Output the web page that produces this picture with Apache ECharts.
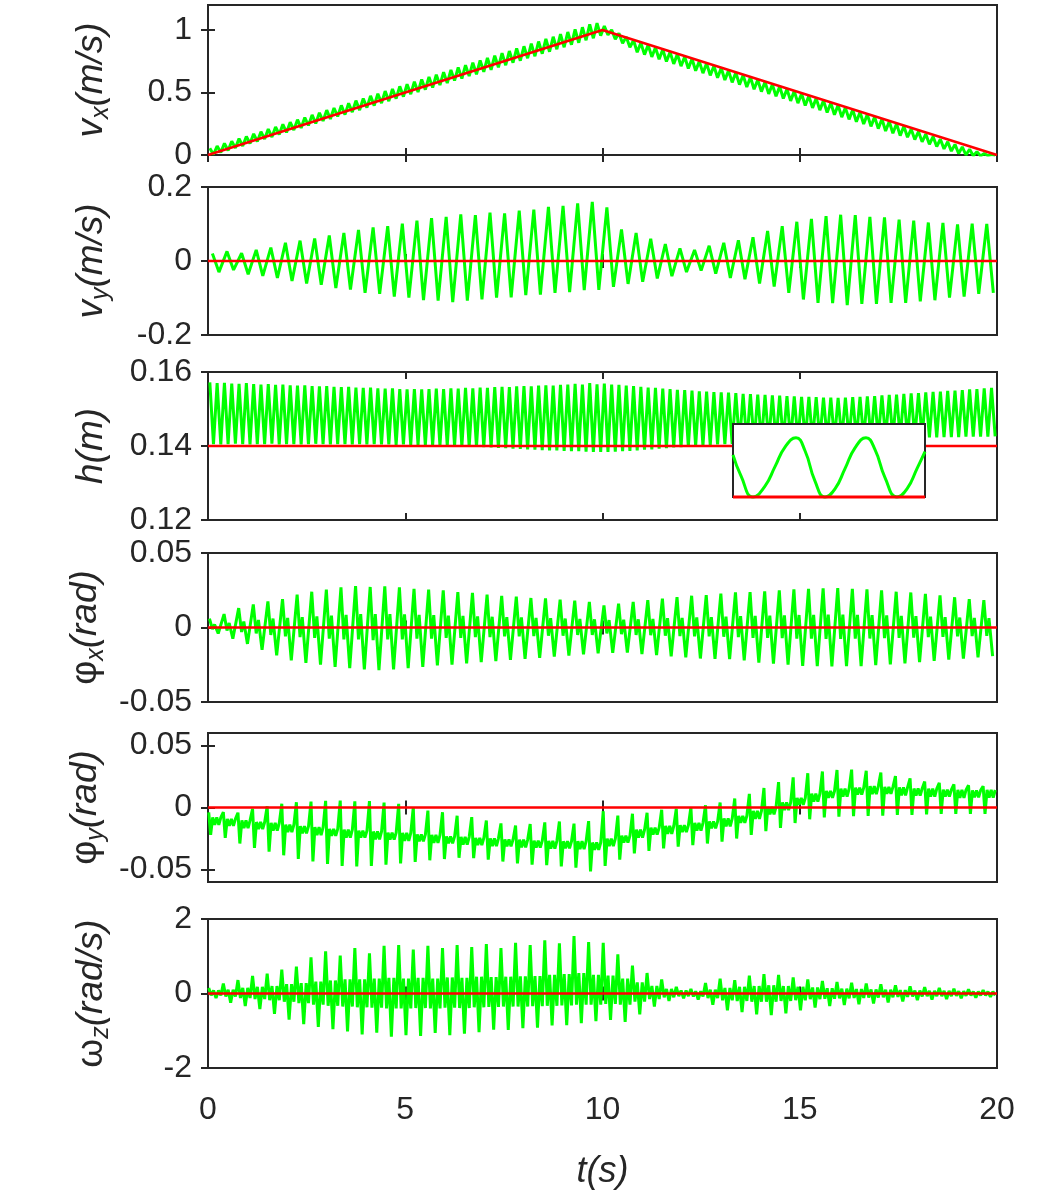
<!DOCTYPE html>
<html><head><meta charset="utf-8">
<script src="https://cdn.jsdelivr.net/npm/echarts@6/dist/echarts.min.js"></script>
<style>html,body{margin:0;padding:0;background:#fff}#c{width:1050px;height:1200px}</style>
</head><body><div id="c"></div>
<script>
// ---------- data ----------
const T_END = 20;
const xTicks = [0, 5, 10, 15, 20];
const vxTicks = [0, 0.5, 1];
const vyTicks = [-0.2, 0, 0.2];
const hTicks = [0.12, 0.14, 0.16];
const phxTicks = [-0.05, 0, 0.05];
const phyTicks = [-0.05, 0, 0.05];
const wzTicks = [-2, 0, 2];

// red reference commands
const refTimes = [0, 10, 20];
const vxRefVals = [0, 1, 0];
const zeroRefVals = [0, 0, 0];
const hRefVals = [0.14, 0.14, 0.14];

// fast oscillation (one entry per step cycle): vx and h
const vxHi = [0.054,0.072,0.093,0.110,0.131,0.148,0.169,0.186,0.207,0.224,0.245,0.262,0.283,0.300,0.321,0.338,0.359,0.376,0.397,0.414,0.435,0.452,0.473,0.490,0.511,0.528,0.549,0.566,0.587,0.604,0.625,0.642,0.663,0.680,0.701,0.718,0.739,0.756,0.777,0.794,0.815,0.832,0.853,0.870,0.891,0.908,0.929,0.946,0.967,0.984,1.005,1.022,1.045,1.055,
1.031,1.002,0.974,0.945,0.918,0.897,0.881,0.860,0.844,0.823,0.807,0.786,0.770,0.749,0.733,0.712,0.696,0.675,0.659,0.638,0.622,0.601,0.585,0.564,0.548,0.527,0.511,0.490,0.473,0.453,0.436,0.416,0.399,0.379,0.362,0.342,0.325,0.305,0.288,0.268,0.250,0.230,0.208,0.188,0.167,0.147,0.126,0.106,0.085,0.065,0.046,0.027,0.012,0.003];
const vxLo = [0.004,0.020,0.036,0.056,0.072,0.092,0.108,0.128,0.144,0.164,0.180,0.200,0.216,0.236,0.252,0.272,0.288,0.308,0.323,0.343,0.359,0.379,0.395,0.415,0.431,0.451,0.467,0.487,0.503,0.523,0.539,0.559,0.575,0.595,0.611,0.631,0.646,0.666,0.682,0.702,0.718,0.738,0.754,0.774,0.790,0.810,0.826,0.846,0.862,0.882,0.898,0.918,0.934,0.955,
0.961,0.927,0.894,0.862,0.822,0.803,0.785,0.766,0.748,0.729,0.711,0.692,0.674,0.655,0.637,0.618,0.600,0.581,0.563,0.544,0.526,0.507,0.489,0.470,0.452,0.433,0.415,0.396,0.377,0.359,0.340,0.322,0.303,0.285,0.266,0.248,0.229,0.211,0.192,0.174,0.155,0.142,0.123,0.105,0.086,0.068,0.049,0.031,0.012,0.000,-0.006,-0.008,-0.006,-0.003];
const hHi = [0.1572,0.157,0.1571,0.1569,0.1568,0.157,0.1567,0.1566,0.1567,0.1565,0.1566,0.1564,0.1563,0.1564,0.1562,0.1561,0.1562,0.156,0.1559,0.156,
0.1558,0.1557,0.1558,0.1556,0.1555,0.1556,0.1554,0.1553,0.1554,0.1553,0.1554,0.1555,0.1554,0.1556,0.1555,0.1557,0.1556,0.1558,0.1557,0.1559,
0.156,0.1559,0.1561,0.1562,0.1561,0.1563,0.1564,0.1563,0.1565,0.1566,0.1568,0.1566,0.157,0.1567,0.1569,0.1566,0.1565,0.1563,0.1562,0.156,
0.1558,0.1557,0.1555,0.1554,0.1552,0.1551,0.155,0.1548,0.1547,0.1546,0.1545,0.1544,0.1543,0.1541,0.154,0.1539,0.1538,0.1537,0.1536,0.1535,
0.1534,0.1533,0.1533,0.1532,0.1531,0.1531,0.153,0.1531,0.1532,0.1533,0.1534,0.1535,0.1537,0.1538,0.1539,0.1541,0.1542,0.1543,0.1545,0.1546,
0.1547,0.1549,0.155,0.1551,0.1553,0.1554,0.1556,0.1557];
const hLo = [0.1405,0.1404,0.1405,0.1406,0.1405,0.1404,0.1405,0.1405,0.1406,0.1404,0.1405,0.1405,0.1404,0.1405,0.1406,0.1405,0.1404,0.1405,0.1405,0.1404,
0.1405,0.1404,0.1405,0.1404,0.1404,0.1403,0.1404,0.1403,0.1403,0.1402,0.1402,0.1401,0.1401,0.14,0.1399,0.1399,0.1398,0.1397,0.1396,0.1395,
0.1394,0.1393,0.1392,0.1391,0.139,0.1389,0.1388,0.1388,0.1387,0.1386,0.1386,0.1385,0.1384,0.1384,0.1384,0.1385,0.1386,0.1387,0.1388,0.139,
0.1391,0.1393,0.1394,0.1396,0.1397,0.1399,0.14,0.1401,0.1402,0.1404,0.1405,0.1406,0.1407,0.1408,0.1409,0.141,0.1411,0.1412,0.1413,0.1414,
0.1415,0.1416,0.1416,0.1417,0.1418,0.1418,0.1419,0.1419,0.142,0.142,0.142,0.1421,0.1421,0.1421,0.1422,0.1422,0.1422,0.1423,0.1423,0.1423,
0.1424,0.1424,0.1424,0.1425,0.1425,0.1425,0.1425,0.1426];

// slow oscillation (one entry per gait cycle)
const vyHi = [0.020,0.026,0.021,0.030,0.036,0.049,0.055,0.061,0.069,0.076,0.084,0.091,0.094,0.101,0.109,0.116,0.119,0.126,0.124,0.131,0.129,0.136,0.139,0.146,0.149,0.156,0.160,0.145,0.085,0.076,0.060,0.046,0.034,0.030,0.041,0.049,0.056,0.064,0.081,0.094,0.106,0.114,0.121,0.125,0.124,0.119,0.118,0.112,0.109,0.104,0.103,0.099,0.101,0.100];
const vyLo = [-0.030,-0.024,-0.036,-0.040,-0.046,-0.054,-0.061,-0.064,-0.073,-0.077,-0.086,-0.089,-0.096,-0.099,-0.106,-0.107,-0.111,-0.107,-0.104,-0.099,-0.098,-0.092,-0.091,-0.086,-0.084,-0.079,-0.078,-0.070,-0.062,-0.056,-0.047,-0.041,-0.030,-0.026,-0.034,-0.046,-0.049,-0.061,-0.069,-0.086,-0.104,-0.113,-0.114,-0.119,-0.116,-0.116,-0.113,-0.113,-0.109,-0.106,-0.099,-0.096,-0.089,-0.086];
const phxHi = [0.006,0.009,0.013,0.0155,0.0175,0.019,0.022,0.024,0.0255,0.027,0.0278,0.0272,0.0276,0.027,0.026,0.0255,0.025,0.0238,0.0232,0.022,0.0213,0.0207,0.0198,0.0195,0.0187,0.018,0.0172,0.0148,0.016,0.0172,0.0183,0.0193,0.0204,0.0213,0.0218,0.0228,0.0236,0.0238,0.0243,0.025,0.0256,0.0259,0.0263,0.0265,0.026,0.0256,0.025,0.024,0.0235,0.0225,0.0215,0.0203,0.0191,0.0183];
const phxDip = [-0.001,-0.002,-0.003,-0.004,-0.005,-0.006,-0.0065,-0.007,-0.0075,-0.008,-0.008,-0.0085,-0.008,-0.008,-0.0075,-0.0075,-0.007,-0.007,-0.0065,-0.0065,-0.006,-0.006,-0.0058,-0.0055,-0.0055,-0.005,-0.005,-0.004,-0.0045,-0.005,-0.0052,-0.0055,-0.0058,-0.006,-0.006,-0.0062,-0.0065,-0.007,-0.007,-0.0072,-0.0075,-0.0075,-0.0076,-0.0076,-0.0075,-0.0074,-0.0072,-0.007,-0.0068,-0.0065,-0.0063,-0.006,-0.0058,-0.0056];
const phxBump = [0.002,0.003,0.004,0.005,0.006,0.0065,0.007,0.0075,0.008,0.0085,0.009,0.009,0.009,0.0088,0.0085,0.0083,0.008,0.0078,0.0075,0.0072,0.007,0.0068,0.0065,0.0063,0.006,0.0058,0.0055,0.005,0.0052,0.0055,0.0058,0.0062,0.0065,0.0068,0.007,0.0073,0.0076,0.0078,0.008,0.0082,0.0084,0.0085,0.0086,0.0086,0.0085,0.0083,0.0081,0.0078,0.0076,0.0073,0.007,0.0067,0.0064,0.0062];
const phxLo = [-0.004,-0.0075,-0.011,-0.015,-0.0187,-0.022,-0.0237,-0.025,-0.0265,-0.0273,-0.0282,-0.0286,-0.0281,-0.0273,-0.0264,-0.0255,-0.0249,-0.024,-0.0233,-0.0226,-0.0218,-0.021,-0.0203,-0.0196,-0.0188,-0.018,-0.0173,-0.017,-0.0168,-0.0178,-0.0185,-0.0193,-0.02,-0.0208,-0.021,-0.0213,-0.022,-0.0235,-0.0243,-0.025,-0.0258,-0.026,-0.0261,-0.026,-0.0259,-0.0253,-0.0247,-0.024,-0.0232,-0.0224,-0.0216,-0.0208,-0.02,-0.0192];
const phyHi = [-0.004,-0.0038,-0.0042,-0.001,0.001,0.003,0.0042,0.0048,0.0053,0.0056,0.005,0.0051,0.0039,0.003,0.0002,-0.0025,-0.0038,-0.0066,-0.0078,-0.0105,-0.0128,-0.0145,-0.0133,-0.012,-0.0113,-0.013,-0.011,-0.003,-0.0065,-0.005,-0.0042,-0.0018,-0.001,0.0003,0.0018,0.004,0.0072,0.011,0.0157,0.0205,0.0243,0.0276,0.029,0.0302,0.0305,0.0296,0.0281,0.0254,0.0234,0.0209,0.0198,0.0187,0.0179,0.0172];
const phyLo = [-0.022,-0.0245,-0.029,-0.0325,-0.0355,-0.0385,-0.0415,-0.0435,-0.0455,-0.047,-0.0475,-0.047,-0.046,-0.045,-0.0438,-0.0425,-0.0415,-0.0405,-0.0408,-0.042,-0.0435,-0.045,-0.046,-0.0465,-0.0475,-0.0485,-0.0515,-0.047,-0.042,-0.037,-0.035,-0.033,-0.0315,-0.0303,-0.029,-0.0275,-0.025,-0.022,-0.019,-0.0165,-0.0125,-0.0095,-0.008,-0.0073,-0.007,-0.0068,-0.0065,-0.006,-0.006,-0.0055,-0.0052,-0.0052,-0.0052,-0.0052];
const phyBandHi = [-0.008,-0.0092,-0.0104,-0.0117,-0.0124,-0.0138,-0.015,-0.0158,-0.0172,-0.0178,-0.0186,-0.0193,-0.0202,-0.0204,-0.0217,-0.022,-0.0232,-0.0236,-0.0245,-0.0248,-0.0257,-0.0258,-0.0267,-0.0268,-0.0272,-0.0271,-0.0282,-0.025,-0.0227,-0.0178,-0.0162,-0.0148,-0.0142,-0.0123,-0.0112,-0.0088,-0.0067,-0.0028,0.0005,0.0042,0.0078,0.0112,0.0133,0.0152,0.016,0.0172,0.0166,0.0162,0.0153,0.0152,0.0143,0.0142,0.0138,0.0141];
const phyBandLo = [-0.014,-0.0148,-0.0166,-0.0173,-0.0186,-0.0198,-0.0208,-0.0222,-0.0228,-0.0242,-0.0243,-0.0257,-0.0258,-0.0268,-0.0273,-0.0284,-0.0288,-0.0298,-0.0302,-0.0311,-0.0313,-0.0322,-0.0323,-0.0332,-0.0328,-0.0335,-0.034,-0.031,-0.0283,-0.0242,-0.0218,-0.0212,-0.0198,-0.0187,-0.0168,-0.0152,-0.0123,-0.0092,-0.0055,-0.0022,0.0022,0.0048,0.0077,0.0088,0.0104,0.0108,0.011,0.0098,0.0097,0.0088,0.0087,0.0078,0.0082,0.0079];
const wzHi = [0.15,0.27,0.36,0.47,0.53,0.64,0.72,0.97,1.13,1.02,1.22,1.08,1.28,1.3,1.18,1.28,1.22,1.3,1.25,1.33,1.22,1.36,1.3,1.43,1.35,1.54,1.38,1.36,1.05,0.75,0.55,0.38,0.18,0.12,0.28,0.4,0.36,0.48,0.52,0.5,0.43,0.38,0.34,0.31,0.29,0.27,0.25,0.22,0.19,0.17,0.15,0.13,0.11,0.09];
const wzMidA = [-0.05,-0.08,-0.12,-0.15,-0.18,-0.22,-0.26,-0.3,-0.33,-0.35,-0.37,-0.38,-0.4,-0.4,-0.39,-0.4,-0.38,-0.39,-0.37,-0.36,-0.35,-0.35,-0.34,-0.33,-0.32,-0.3,-0.3,-0.28,-0.3,-0.22,-0.15,-0.1,-0.07,-0.08,-0.12,-0.18,-0.2,-0.22,-0.22,-0.2,-0.18,-0.15,-0.14,-0.13,-0.12,-0.11,-0.1,-0.09,-0.08,-0.07,-0.07,-0.06,-0.05,-0.05];
const wzMidB = [0.08,0.1,0.15,0.18,0.2,0.25,0.28,0.32,0.35,0.38,0.38,0.4,0.42,0.4,0.42,0.4,0.43,0.42,0.45,0.44,0.45,0.46,0.47,0.5,0.52,0.55,0.5,0.48,0.4,0.3,0.2,0.12,0.08,0.06,0.1,0.15,0.18,0.2,0.22,0.2,0.18,0.16,0.14,0.13,0.12,0.11,0.1,0.09,0.08,0.07,0.07,0.06,0.05,0.05];
const wzLo = [-0.12,-0.25,-0.34,-0.42,-0.55,-0.7,-0.82,-0.9,-0.96,-1.02,-1.1,-1.05,-1.16,-1.12,-1.14,-1.06,-1.12,-1.08,-1.04,-0.97,-0.98,-0.93,-0.92,-0.86,-0.85,-0.8,-0.74,-0.71,-0.76,-0.56,-0.35,-0.2,-0.13,-0.16,-0.3,-0.45,-0.5,-0.56,-0.58,-0.53,-0.45,-0.38,-0.34,-0.31,-0.29,-0.27,-0.24,-0.21,-0.18,-0.16,-0.15,-0.13,-0.11,-0.09];

// inset (zoom of h over a few steps): time in ms within the window, height in m
const insetT = [0,8,20,32,42,52,63,72,82,92,102,112,122,133,142,152,164,174,184,192];
const insetH = [0.1504,0.1452,0.1400,0.1427,0.1475,0.1523,0.1546,0.1514,0.1439,0.1400,0.1420,0.1470,0.1521,0.1546,0.1517,0.1448,0.1400,0.1420,0.1470,0.1512];
const insetRefH = [0.14, 0.14];
const insetRefT = [0, 192];

// ---------- build ----------
function cycles(arrays, fracs) {
  const n = arrays[0].length, period = T_END / n, out = [];
  for (let i = 0; i < n; i++) for (let k = 0; k < fracs.length; k++) out.push([(i + fracs[k]) * period, arrays[k][i]]);
  return out;
}
function pairs(xs, ys) { return xs.map((x, i) => [x, ys[i]]); }

const INK = '#262626';
const FONT = "'Liberation Sans', Arial, Helvetica, sans-serif";
const rich = {
  i: {fontSize: 37, fontStyle: 'italic', fontFamily: FONT, color: INK, lineHeight: 44, verticalAlign: 'middle'},
  g: {fontSize: 37, fontFamily: FONT, color: INK, lineHeight: 44, verticalAlign: 'middle'},
  s: {fontSize: 25, fontStyle: 'italic', fontFamily: FONT, color: INK, lineHeight: 25, verticalAlign: 'bottom'}
};
const panels = [
  {top: 5,   h: 150, min: 0,    max: 1.2,  ticks: vxTicks,  name: '{i|v}{s|x}{i|(m/s)}',
   green: cycles([vxHi, vxLo], [0.25, 0.75]), red: pairs(refTimes, vxRefVals)},
  {top: 187, h: 148, min: -0.2, max: 0.2,  ticks: vyTicks,  name: '{i|v}{s|y}{i|(m/s)}',
   green: cycles([vyHi, vyLo], [0.3, 0.75]), red: pairs(refTimes, zeroRefVals)},
  {top: 372, h: 148, min: 0.12, max: 0.16, ticks: hTicks,   name: '{i|h(m)}',
   green: cycles([hHi, hLo], [0.25, 0.75]), red: pairs(refTimes, hRefVals)},
  {top: 553, h: 149, min: -0.05,max: 0.05, ticks: phxTicks, name: '{g|φ}{s|x}{i|(rad)}',
   green: cycles([phxHi, phxDip, phxBump, phxLo], [0.1, 0.3, 0.45, 0.7]), red: pairs(refTimes, zeroRefVals)},
  {top: 733, h: 149, min: -0.06,max: 0.06, ticks: phyTicks, name: '{g|φ}{s|y}{i|(rad)}',
   green: cycles([phyHi, phyLo, phyBandHi, phyBandLo, phyBandHi, phyBandLo, phyBandHi], [0.05, 0.18, 0.32, 0.46, 0.6, 0.74, 0.88]), red: pairs(refTimes, zeroRefVals)},
  {top: 919, h: 149, min: -2,   max: 2,    ticks: wzTicks,  name: '{g|ω}{s|z}{i|(rad/s)}',
   green: cycles([wzHi, wzMidA, wzMidB, wzLo, wzMidB, wzMidA], [0.05, 0.22, 0.38, 0.55, 0.72, 0.88]), red: pairs(refTimes, zeroRefVals)}
];

const grid = [], xAxis = [], yAxis = [], series = [];
const tickStyle = {inside: true, length: 7, lineStyle: {color: INK, width: 2}};
panels.forEach((p, k) => {
  grid.push({left: 208, width: 789, top: p.top, height: p.h, show: true, borderColor: INK, borderWidth: 2, backgroundColor: '#fff'});
  const last = k === panels.length - 1;
  xAxis.push({gridIndex: k, type: 'value', min: 0, max: T_END, position: 'bottom',
    axisLine: {show: false}, splitLine: {show: false},
    axisTick: Object.assign({customValues: xTicks}, tickStyle),
    axisLabel: {show: last, customValues: xTicks, fontSize: 32, color: INK, fontFamily: FONT, margin: 26},
    name: last ? 't(s)' : '', nameLocation: 'middle', nameGap: 86,
    nameTextStyle: {fontSize: 36, fontStyle: 'italic', color: INK, fontFamily: FONT}});
  xAxis.push({gridIndex: k, type: 'value', min: 0, max: T_END, position: 'top',
    axisLine: {show: false}, splitLine: {show: false},
    axisTick: Object.assign({customValues: xTicks}, tickStyle), axisLabel: {show: false}});
  yAxis.push({gridIndex: k, type: 'value', min: p.min, max: p.max, position: 'left',
    axisLine: {show: false}, splitLine: {show: false},
    axisTick: Object.assign({customValues: p.ticks}, tickStyle),
    axisLabel: {customValues: p.ticks, fontSize: 32, color: INK, fontFamily: FONT, margin: 16},
    name: p.name, nameLocation: 'middle', nameRotate: 90, nameGap: 94,
    nameTextStyle: {rich: rich}});
  yAxis.push({gridIndex: k, type: 'value', min: p.min, max: p.max, position: 'right',
    axisLine: {show: false}, splitLine: {show: false},
    axisTick: Object.assign({customValues: p.ticks}, tickStyle), axisLabel: {show: false}});
  series.push({type: 'line', xAxisIndex: 2 * k, yAxisIndex: 2 * k, data: p.green, showSymbol: false,
    lineStyle: {color: '#00ff00', width: 3}, z: 2, silent: true});
  series.push({type: 'line', xAxisIndex: 2 * k, yAxisIndex: 2 * k, data: p.red, showSymbol: false,
    lineStyle: {color: '#ff0000', width: 2.5}, z: 3, silent: true});
});
// inset
const ig = panels.length;
grid.push({left: 733, top: 424, width: 192, height: 73, show: true, borderColor: INK, borderWidth: 2, backgroundColor: '#fff', z: 10});
xAxis.push({gridIndex: ig, type: 'value', min: 0, max: 192, show: false});
yAxis.push({gridIndex: ig, type: 'value', min: 0.14, max: 0.158, show: false});
series.push({type: 'line', xAxisIndex: 2 * ig, yAxisIndex: 2 * ig, data: pairs(insetT, insetH), smooth: 0.5, showSymbol: false,
  clip: false, lineStyle: {color: '#00ff00', width: 3}, z: 11, silent: true});
series.push({type: 'line', xAxisIndex: 2 * ig, yAxisIndex: 2 * ig, data: pairs(insetRefT, insetRefH), showSymbol: false,
  clip: false, lineStyle: {color: '#ff0000', width: 3}, z: 12, silent: true});

const chart = echarts.init(document.getElementById('c'), null, {renderer: 'canvas'});
chart.setOption({backgroundColor: '#fff', animation: false, grid, xAxis, yAxis, series});
</script>
</body></html>
